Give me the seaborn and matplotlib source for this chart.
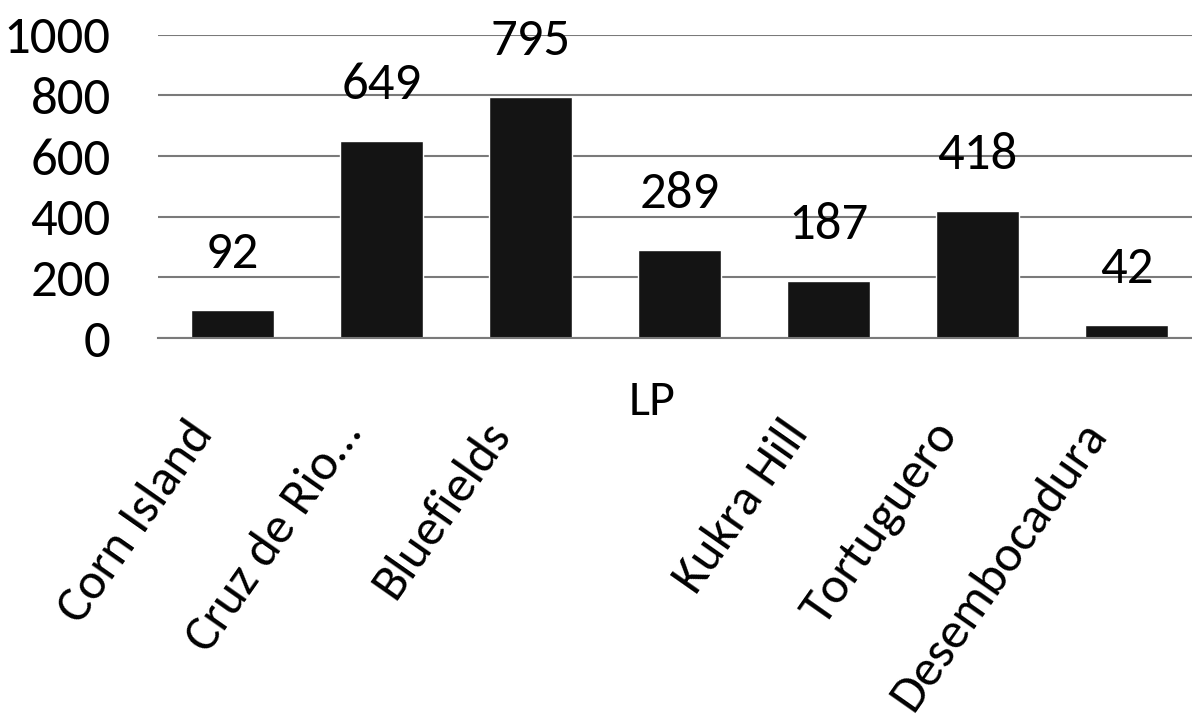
import pandas as pd
import seaborn as sns
import matplotlib.pyplot as plt
from matplotlib.transforms import ScaledTranslation

sites = ["Corn Island", "Cruz de Rio\u2026", "Bluefields", "LP",
         "Kukra Hill", "Tortuguero", "Desembocadura"]
counts = [92, 649, 795, 289, 187, 418, 42]
yticks = [0, 200, 400, 600, 800, 1000]

df = pd.DataFrame({"site": sites, "count": counts})

sns.set_style("white")
plt.rcParams['font.family'] = ['Carlito', 'DejaVu Sans']
plt.rcParams['text.color'] = 'black'
plt.rcParams['xtick.color'] = 'black'
plt.rcParams['ytick.color'] = 'black'

fig = plt.figure(figsize=(11.92, 7.24), dpi=100)
ax = fig.add_axes([0.1326, 0.533, 0.8674, 0.419])

sns.barplot(data=df, x="site", y="count", color="#141414", saturation=1,
            width=0.56, ax=ax)

ax.set_xlim(-0.5, 6.44)
ax.set_ylim(0, 1000)
ax.set_yticks(yticks)
ax.yaxis.grid(True, color="#7a7a7a", lw=1.5)
ax.set_axisbelow(True)
sns.despine(ax=ax, left=True, top=True, right=True)
ax.spines["bottom"].set_color("#7a7a7a")
ax.spines["bottom"].set_linewidth(1.5)
ax.set_xlabel("")
ax.set_ylabel("")
ax.tick_params(axis="y", length=0, pad=34, labelsize=38)

# value labels above the bars
ax.bar_label(ax.containers[0], padding=24, fontsize=38)

# category labels, rotated; LP sits flat under the axis
ax.set_xticks(range(len(sites)))
ax.set_xticklabels([s if s != "LP" else "" for s in sites], rotation=55,
                   ha="right", va="center", rotation_mode="anchor", fontsize=37)
ax.tick_params(axis="x", length=0, pad=63)
shift = ScaledTranslation(-0.3, 0, fig.dpi_scale_trans)
for lbl in ax.get_xticklabels():
    lbl.set_transform(lbl.get_transform() + shift)

ax.annotate("LP", xy=(sites.index("LP"), 0), xycoords=("data", "axes fraction"),
            xytext=(-20, -46), textcoords="offset points", ha="center", va="center",
            fontsize=36)

plt.savefig("out.png", dpi=100)
